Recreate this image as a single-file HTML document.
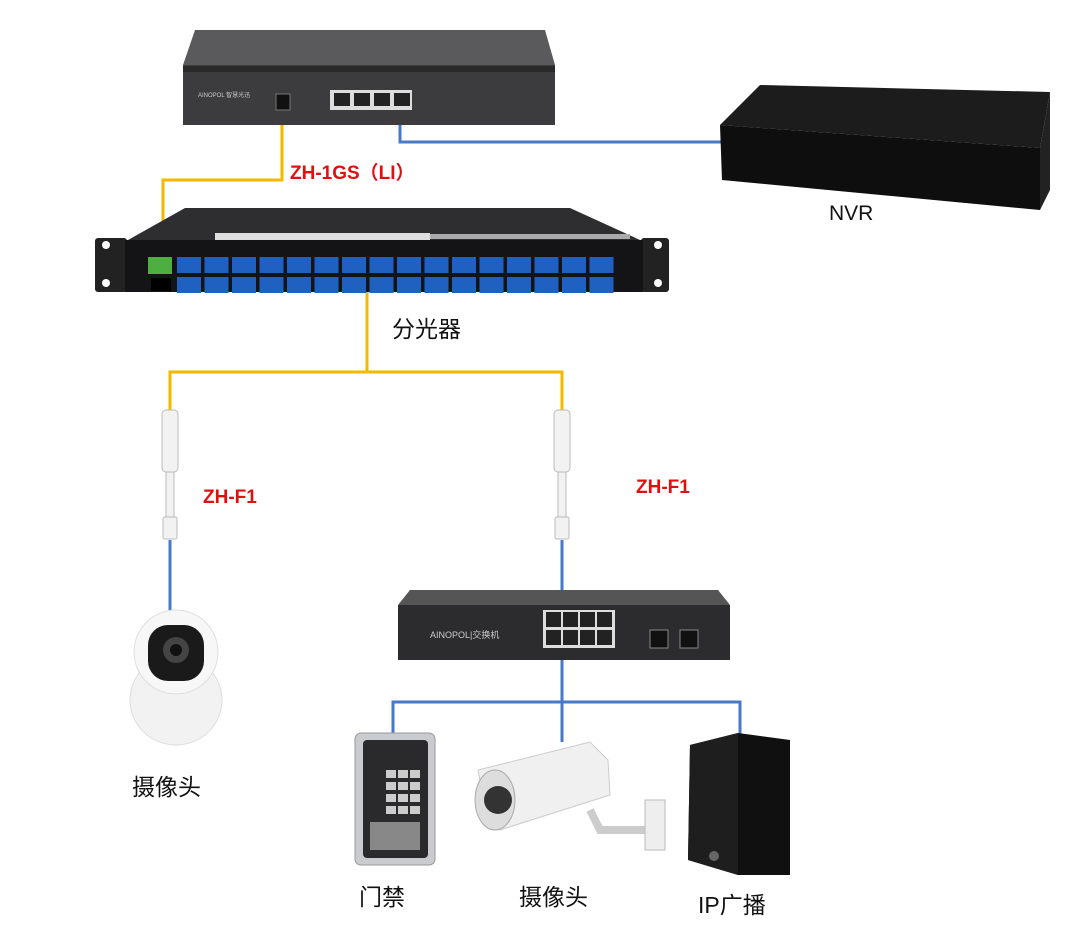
<!DOCTYPE html>
<html><head><meta charset="utf-8"><style>
body{margin:0;width:1080px;height:933px;background:#fff;position:relative;overflow:hidden;font-family:"Liberation Sans","Noto Sans CJK SC",sans-serif}
.a{position:absolute}
.lbl{position:absolute;font-size:23px;color:#111}
.red{position:absolute;color:#e01010;font-weight:bold;font-size:19px}
</style></head><body>
<svg class="a" style="left:0;top:0" width="1080" height="933">
<g fill="none" stroke-width="3">
<path d="M400 105 V142 H725" stroke="#4a78c8"/>
<path d="M282 112 V180 H163 V255" stroke="#f5b800"/>
<path d="M367 292 V372 M170 410 V372 H562 V410" stroke="#f5b800"/>
<path d="M170 540 V615 M562 540 V592 M562 660 V702 M393 735 V702 H740 V735 M562 702 V742" stroke="#4a78c8"/>
</g>
<!-- OLT -->
<polygon points="195,30 545,30 555,65 183,65" fill="#5a5a5c"/>
<rect x="183" y="65" width="372" height="60" fill="#3c3c3e"/>
<rect x="183" y="66" width="372" height="6" fill="#2a2a2a"/>
<rect x="330" y="90" width="82" height="20" fill="#ddd"/>
<g fill="#222"><rect x="334" y="93" width="16" height="13"/><rect x="354" y="93" width="16" height="13"/><rect x="374" y="93" width="16" height="13"/><rect x="394" y="93" width="16" height="13"/></g>
<rect x="276" y="94" width="14" height="16" fill="#111" stroke="#777"/>
<text x="198" y="97" font-size="6" fill="#ccc" font-family="Liberation Sans">AINOPOL 智慧光迅</text>
<!-- NVR -->
<polygon points="760,85 1050,92 1040,148 720,125" fill="#1c1c1c"/>
<polygon points="720,125 1040,148 1040,210 722,180" fill="#0e0e0e"/>
<polygon points="1040,148 1050,92 1050,190 1040,210" fill="#222"/>
<!-- splitter -->
<polygon points="185,208 570,208 640,240 128,240" fill="#2e2e30"/>
<rect x="215" y="233" width="215" height="7" fill="#ddd"/>
<rect x="430" y="234" width="200" height="5" fill="#aaa"/>
<rect x="95" y="238" width="32" height="54" rx="3" fill="#222"/>
<rect x="641" y="238" width="28" height="54" rx="3" fill="#222"/>
<circle cx="106" cy="245" r="4" fill="#fff"/><circle cx="106" cy="283" r="4" fill="#fff"/>
<circle cx="658" cy="245" r="4" fill="#fff"/><circle cx="658" cy="283" r="4" fill="#fff"/>
<rect x="125" y="240" width="518" height="52" fill="#141416"/>
<rect x="148" y="257" width="24" height="17" fill="#4caf40"/>
<rect x="151" y="278" width="20" height="13" fill="#000"/>
<g fill="#2060c0" id="c">
<rect x="177" y="257" width="24" height="16"/><rect x="204.5" y="257" width="24" height="16"/><rect x="232" y="257" width="24" height="16"/><rect x="259.5" y="257" width="24" height="16"/><rect x="287" y="257" width="24" height="16"/><rect x="314.5" y="257" width="24" height="16"/><rect x="342" y="257" width="24" height="16"/><rect x="369.5" y="257" width="24" height="16"/><rect x="397" y="257" width="24" height="16"/><rect x="424.5" y="257" width="24" height="16"/><rect x="452" y="257" width="24" height="16"/><rect x="479.5" y="257" width="24" height="16"/><rect x="507" y="257" width="24" height="16"/><rect x="534.5" y="257" width="24" height="16"/><rect x="562" y="257" width="24" height="16"/><rect x="589.5" y="257" width="24" height="16"/>
</g>
<use href="#c" y="20"/>
<!-- adapters -->
<g fill="#f2f2f2" stroke="#bbb">
<rect x="162" y="410" width="16" height="62" rx="4"/><rect x="166" y="472" width="8" height="45"/><rect x="163" y="517" width="14" height="22" rx="2"/>
<rect x="554" y="410" width="16" height="62" rx="4"/><rect x="558" y="472" width="8" height="45"/><rect x="555" y="517" width="14" height="22" rx="2"/>
</g>
<!-- switch -->
<polygon points="410,590 718,590 730,605 398,605" fill="#555"/>
<rect x="398" y="605" width="332" height="55" fill="#2c2c2e"/>
<rect x="543" y="610" width="72" height="38" fill="#ddd"/>
<g fill="#222"><rect x="546" y="612" width="15" height="15"/><rect x="563" y="612" width="15" height="15"/><rect x="580" y="612" width="15" height="15"/><rect x="597" y="612" width="15" height="15"/><rect x="546" y="630" width="15" height="15"/><rect x="563" y="630" width="15" height="15"/><rect x="580" y="630" width="15" height="15"/><rect x="597" y="630" width="15" height="15"/></g>
<rect x="650" y="630" width="18" height="18" fill="#111" stroke="#888"/><rect x="680" y="630" width="18" height="18" fill="#111" stroke="#888"/>
<text x="430" y="638" font-size="9" fill="#ccc" font-family="Liberation Sans">AINOPOL|交换机</text>
<!-- dome camera -->
<ellipse cx="176" cy="700" rx="46" ry="45" fill="#f2f2f2" stroke="#ddd"/>
<circle cx="176" cy="652" r="42" fill="#f7f7f7" stroke="#ddd"/>
<rect x="148" y="625" width="56" height="56" rx="20" fill="#1a1a1a"/>
<circle cx="176" cy="650" r="13" fill="#444"/><circle cx="176" cy="650" r="6" fill="#111"/>
<!-- door access -->
<rect x="355" y="733" width="80" height="132" rx="6" fill="#c9cbce" stroke="#999"/>
<rect x="363" y="740" width="65" height="118" rx="4" fill="#2a2a2c"/>
<g fill="#ccc"><rect x="386" y="770" width="10" height="8"/><rect x="398" y="770" width="10" height="8"/><rect x="410" y="770" width="10" height="8"/><rect x="386" y="782" width="10" height="8"/><rect x="398" y="782" width="10" height="8"/><rect x="410" y="782" width="10" height="8"/><rect x="386" y="794" width="10" height="8"/><rect x="398" y="794" width="10" height="8"/><rect x="410" y="794" width="10" height="8"/><rect x="386" y="806" width="10" height="8"/><rect x="398" y="806" width="10" height="8"/><rect x="410" y="806" width="10" height="8"/></g>
<rect x="370" y="822" width="50" height="28" fill="#888"/>
<!-- bullet camera -->
<polygon points="478,770 590,742 608,760 610,795 500,830 485,810" fill="#f0f0f0" stroke="#ccc"/>
<ellipse cx="495" cy="800" rx="20" ry="30" fill="#ddd" stroke="#aaa"/>
<circle cx="498" cy="800" r="14" fill="#333"/>
<path d="M590 810 L600 830 H650 V850" stroke="#ccc" stroke-width="8" fill="none"/>
<rect x="645" y="800" width="20" height="50" fill="#eee" stroke="#bbb"/>
<!-- speaker -->
<polygon points="690,745 738,733 790,740 790,875 738,875 688,860" fill="#101010"/>
<polygon points="690,745 738,733 738,875 688,860" fill="#1e1e1e"/>
<circle cx="714" cy="856" r="5" fill="#666"/>
</svg>
<div class="red" style="left:290px;top:158px">ZH-1GS（LI）</div>
<div class="red" style="left:203px;top:487px">ZH-F1</div>
<div class="red" style="left:636px;top:477px">ZH-F1</div>
<div class="lbl" style="left:829px;top:202px;font-size:21px">NVR</div>
<div class="lbl" style="left:392px;top:310px">分光器</div>
<div class="lbl" style="left:132px;top:768px">摄像头</div>
<div class="lbl" style="left:359px;top:878px">门禁</div>
<div class="lbl" style="left:519px;top:878px">摄像头</div>
<div class="lbl" style="left:698px;top:886px">IP广播</div>
</body></html>
